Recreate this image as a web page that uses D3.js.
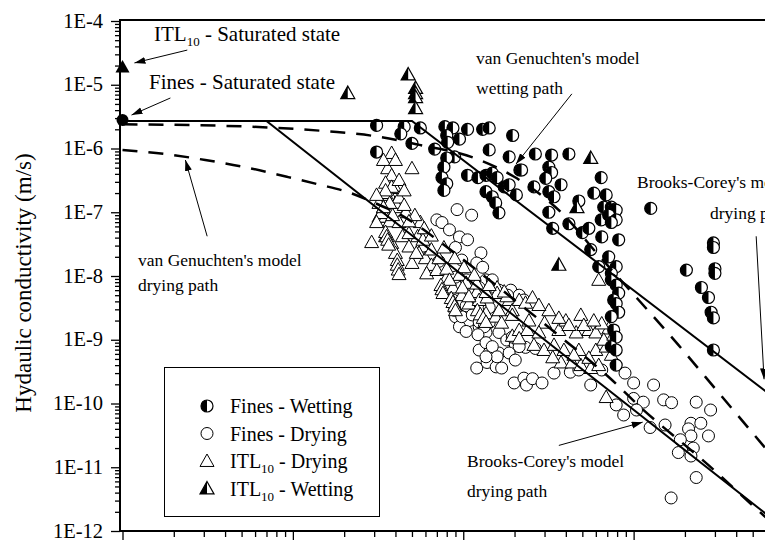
<!DOCTYPE html>
<html>
<head>
<meta charset="utf-8">
<script src="https://cdn.jsdelivr.net/npm/d3@7"></script>
<style>
  body { margin: 0; background: #fff; }
  svg { display: block; }
  text { font-family: "Liberation Serif", "Times New Roman", serif; fill: #000; }
</style>
</head>
<body>
<svg id="chart"></svg>
<script>
// suction (kPa), hydraulic conductivity (m/s)
const finesSaturated = [[1, 2.8e-6]];
const itlSaturated = [[1, 1.9e-5]];

const finesWetting = [
  [31,2.3e-6],[45,2.2e-6],[43,1.7e-6],[56,2.1e-6],[50,1.2e-6],[31,8.8e-7],[78,2.2e-6],[87,2.1e-6],
  [95,1.4e-6],[80,1.6e-6],[81,1.25e-6],[106,2.0e-6],[130,2.0e-6],[142,2.1e-6],[195,1.6e-6],[68,9.8e-7],
  [89,7.4e-7],[80,7.1e-7],[77,5.1e-7],[75,3.5e-7],[106,3.8e-7],[122,3.5e-7],[136,3.8e-7],[148,4.1e-7],
  [158,3.5e-7],[142,9.5e-7],[186,7.4e-7],[215,4.6e-7],[80,2.8e-7],[136,2.1e-7],[148,1.75e-7],[155,1.4e-7],
  [162,9.8e-8],[174,2.5e-7],[186,2.7e-7],[205,1.87e-7],[265,8.2e-7],[330,7.9e-7],[417,8.2e-7],[318,5.1e-7],
  [330,4.2e-7],[305,3.4e-7],[260,2.5e-7],[375,2.7e-7],[318,2.1e-7],[341,1.75e-7],[318,1.0e-7],[645,3.5e-7],
  [584,2.0e-7],[690,1.87e-7],[477,1.5e-7],[668,1.2e-7],[740,1.2e-7],[764,1.1e-7],[790,1.08e-7],[1260,1.15e-7],
  [220,4.6e-7],[77,2.2e-7],[335,5.6e-8],[417,6.6e-8],[500,4.8e-8],[546,5.6e-8],[645,7.6e-8],[650,4.1e-8],
  [714,9.0e-8],[790,7.6e-8],[740,6.9e-8],[560,2.6e-8],[714,2.0e-8],[624,1.4e-8],[790,1.4e-8],[740,1.1e-8],
  [740,8.7e-9],[790,7.2e-9],[817,5.4e-9],[764,4.2e-9],[790,3.7e-9],[817,2.7e-9],[740,2.3e-9],[764,1.42e-9],
  [790,1.1e-9],[740,7.8e-10],[790,6.9e-10],[790,4.0e-10],[2940,3.3e-8],[2940,2.8e-8],[2040,1.24e-8],
  [3000,1.3e-8],[3000,1.1e-8],[2500,6.6e-9],[2750,4.6e-9],[2850,2.7e-9],[2940,2.2e-9],[2940,6.9e-10],[817,3.7e-8]
];

const finesDrying = [
  [92,1.1e-7],[112,9.0e-8],[70,7.6e-8],[75,6.9e-8],[83,5.3e-8],[95,4.1e-8],[106,3.7e-8],[90,2.8e-8],
  [127,2.3e-8],[98,1.78e-8],[120,1.6e-8],[130,1.37e-8],[90,9.6e-9],[104,8.7e-9],[162,6.0e-9],[190,6.0e-9],
  [213,5.0e-9],[182,5.0e-9],[90,2.3e-9],[108,2.0e-9],[95,1.6e-9],[124,1.6e-9],[136,1.3e-9],[142,1.85e-9],
  [162,1.3e-9],[180,9.9e-10],[108,3.3e-9],[142,3.2e-9],[202,8.3e-10],[232,7.6e-10],[265,7.3e-10],[124,6.9e-10],
  [142,6.2e-10],[162,6.2e-10],[120,3.6e-10],[138,4.4e-10],[156,3.75e-10],[168,3.6e-10],[199,2.1e-10],[227,2.5e-10],
  [235,1.95e-10],[255,2.45e-10],[290,2.1e-10],[341,3.0e-10],[425,3.1e-10],[477,3.35e-10],[560,1.95e-10],[650,3.35e-10],
  [890,3.0e-10],[1000,2.1e-10],[1310,1.95e-10],[790,9.5e-11],[874,6.6e-11],[1000,1.2e-10],[1140,1.05e-10],[1040,7.9e-11],
  [1500,1.14e-10],[1670,1.03e-10],[1250,4.2e-11],[1530,4.6e-11],[2330,1.05e-10],[2830,7.9e-11],[2170,4.9e-11],[2480,4.9e-11],
  [2100,4.0e-11],[2170,3.1e-11],[2750,3.1e-11],[1880,2.7e-11],[2240,2.0e-11],[1830,1.7e-11],[2170,1.5e-11],[2330,6.9e-12],
  [1660,3.3e-12],[72,1.7e-8],[87,4.2e-9],[95,3.8e-9],[104,3.4e-9],[89,2.9e-9],[98,2.3e-9],[113,2.45e-9],
  [124,1.9e-9],[133,1.6e-9],[104,1.35e-9],[122,1.2e-9],[136,9.0e-10],[148,7.8e-10],[158,5.4e-10],[136,5.4e-10],
  [194,1.1e-9],[213,7.8e-10],[186,6.2e-10],[202,4.8e-10],[136,8.7e-9],[148,8.7e-9],[124,6.6e-9],[227,4.2e-9]
];

const itlDrying = [
  [38,8.5e-7],[50,4.9e-7],[36,4.9e-7],[38,3.8e-7],[35,2.9e-7],[40,2.4e-7],[37,1.87e-7],[42,1.56e-7],
  [34,1.2e-7],[40,1.2e-7],[46,1.0e-7],[32,8.5e-8],[35,8.5e-8],[32,1.4e-7],[40,1.4e-7],[33,9.7e-8],
  [31,7.0e-8],[37,7.2e-8],[42,7.0e-8],[56,7.0e-8],[29,3.4e-8],[35,4.2e-8],[38,3.3e-8],[40,2.3e-8],
  [44,4.2e-8],[48,2.9e-8],[54,4.2e-8],[58,2.9e-8],[50,1.6e-8],[55,2.3e-8],[60,1.9e-8],[65,1.49e-8],
  [61,1.1e-8],[70,1.24e-8],[80,9.6e-9],[87,6.6e-9],[95,1.04e-8],[104,7.8e-9],[98,5.0e-9],[108,3.7e-9],
  [120,5.6e-9],[124,4.2e-9],[138,4.6e-9],[158,6.6e-9],[158,5.4e-9],[186,4.2e-9],[194,2.9e-9],[213,4.2e-9],
  [232,3.8e-9],[136,2.6e-9],[155,2.3e-9],[168,1.85e-9],[194,1.15e-9],[213,1.42e-9],[238,1.42e-9],[38,2.5e-7],
  [35,2.0e-7],[42,1.7e-7],[37,1.4e-7],[34,1.2e-7],[48,4.7e-8],[58,3.7e-8],[65,2.6e-8],[53,2.3e-8],
  [72,1.9e-8],[80,1.3e-8],[83,8.7e-9],[99,6.6e-9],[120,7.6e-9],[108,4.8e-9],[136,5.6e-9],[180,4.8e-9],
  [255,4.6e-9],[162,2.9e-9],[194,2.45e-9],[243,2.0e-9],[300,1.85e-9],[364,1.42e-9],[400,2.0e-9],[490,2.45e-9],
  [460,1.3e-9],[546,1.42e-9],[600,1.3e-9],[714,1.5e-9],[477,6.9e-10],[600,6.9e-10],[690,7.8e-10],[375,4.4e-10],
  [435,4.4e-10],[490,4.0e-10],[560,3.6e-10],[624,4.0e-10],[690,1.26e-10],[624,8.7e-9],[213,1.05e-9],[260,8.3e-10],
  [298,6.9e-10],[335,5.3e-10],[278,1.3e-9],[318,2.9e-9],[650,1.8e-9],
  [35,4.9e-8],[35.5,4.2e-8],[36,3.7e-8],[36.5,3.1e-8],[41,1.78e-8],[41,1.5e-8],[41.5,1.26e-8],[42,1.07e-8],
  [74,7.2e-9],[75,6.2e-9],[76,5.4e-9],[85,4.5e-9],[87,3.9e-9],[89,3.4e-9],[90,2.9e-9],
  [121,2.9e-9],[126,2.5e-9],[131,2.2e-9],[136,1.9e-9],[45,1.3e-7],[52,9.0e-8],[59,5.6e-8],[65,4.3e-8],
  [77,2.8e-8],[89,1.9e-8],[101,1.37e-8],[116,1.04e-8],[142,7.2e-9],[174,5.7e-9],[278,3.5e-9],[364,2.2e-9],
  [417,1.7e-9],[510,1.7e-9],[584,2.0e-9],[668,1.0e-9],[764,1.2e-9],[341,8.3e-10],[390,6.9e-10],[446,5.8e-10],
  [546,5.2e-10],[740,5.8e-10],[34,6.6e-7],[40,6.6e-7],[42,3.2e-7],[35,2.2e-7],[45,2.2e-7],[31,1.87e-7],
  [38.5,9.0e-8],[48,7.2e-8]
];

const itlWetting = [
  [21,7.4e-6],[47.5,1.45e-5],[52.5,8.9e-6],[52.5,7.4e-6],[52.5,6.4e-6],[52.5,4.3e-6],[560,7.1e-7],[465,1.2e-7],[364,1.5e-8]
];

// model curves
const bcWetting = [[1,2.7e-6],[50,2.7e-6],[10000,5.4e-11]];
const bcDrying = [[1,2.7e-6],[7,2.7e-6],[10000,6.3e-13]];
const vgWetting = [[1,2.4e-6],[5.6,2.2e-6],[16.4,1.85e-6],[29.4,1.58e-6],[55.3,1.14e-6],[116,7.1e-7],[199,3.6e-7],
  [390,9.0e-8],[624,2.1e-8],[1070,4.2e-9],[1830,8.3e-10],[3140,1.5e-10],[5750,2.2e-11],[10000,3.8e-12]];
const vgDrying = [[1,9.5e-7],[1.78,8.2e-7],[3.06,6.6e-7],[5.24,5.1e-7],[9.22,3.6e-7],[14.4,2.7e-7],[20.7,2.1e-7],
  [30.2,1.4e-7],[45.2,8.4e-8],[72.4,3.5e-8],[108,1.54e-8],[221,3.4e-9],[374,1.1e-9],[714,2.6e-10],[1110,8.5e-11],
  [2750,1.08e-11],[5380,2.1e-12],[10000,4.7e-13]];

// annotation arrows: [from, to]
const arrows = [
  [[2.4,3.5e-5],[1.175,2.2e-5]],
  [[1.91,6.2e-6],[1.13,3.35e-6]],
  [[434,7.2e-6],[204,5.7e-7]],
  [[5240,4.2e-8],[5830,2.4e-10]],
  [[3.14,4.2e-8],[2.34,6.6e-7]],
  [[364,2.2e-11],[1130,5.1e-11]]
];

const yTicks = [1e-4,1e-5,1e-6,1e-7,1e-8,1e-9,1e-10,1e-11,1e-12];
const xTicks = [1,10,100,1000,10000];

const width = 765, height = 540;
const svg = d3.select("#chart").attr("width", width).attr("height", height);

const x = d3.scaleLog().domain([1, 1e4]).range([122.5, 804]);
const y = d3.scaleLog().domain([1e-12, 1e-4]).range([531, 21]);

// minor ticks
const yMinor = [];
for (let e = -12; e < -4; e++) for (let k = 2; k <= 9; k++) yMinor.push(k * Math.pow(10, e));
const xMinor = [];
for (let e = 0; e < 4; e++) for (let k = 2; k <= 9; k++) xMinor.push(k * Math.pow(10, e));

svg.append("defs").append("clipPath").attr("id", "plot")
  .append("rect").attr("x", 121).attr("y", 21).attr("width", 700).attr("height", 510);

const marker = svg.select("defs").append("marker")
  .attr("id", "head").attr("markerUnits", "userSpaceOnUse")
  .attr("markerWidth", 12).attr("markerHeight", 8)
  .attr("refX", 11).attr("refY", 3.5).attr("orient", "auto");
marker.append("path").attr("d", "M0,0L11,3.5L0,7Z").attr("fill", "#000");

// y axis
const yAxis = svg.append("g").attr("transform", "translate(120,0)");
yAxis.call(d3.axisLeft(y).tickValues(yMinor).tickSize(5).tickSizeOuter(0).tickFormat(""));
yAxis.call(g => g.select(".domain").remove());
const yAxisMajor = svg.append("g").attr("transform", "translate(120,0)")
  .call(d3.axisLeft(y).tickValues(yTicks).tickSize(9).tickPadding(8).tickSizeOuter(0)
    .tickFormat(d => "1E" + Math.round(Math.log10(d))));
yAxisMajor.select(".domain").remove();
yAxisMajor.selectAll("text").style("font-size", "20.5px").attr("dy", "0.3em");
svg.selectAll(".tick line").attr("stroke-width", 1.3);

// x axis (labels fall outside the frame)
const xAxis = svg.append("g").attr("transform", "translate(0,531)");
xAxis.call(d3.axisBottom(x).tickValues(xMinor).tickSize(6).tickSizeOuter(0).tickFormat(""));
xAxis.select(".domain").remove();
const xAxisMajor = svg.append("g").attr("transform", "translate(0,531)")
  .call(d3.axisBottom(x).tickValues(xTicks).tickSize(11).tickSizeOuter(0).tickFormat(""));
xAxisMajor.select(".domain").remove();
svg.selectAll(".tick line").attr("stroke-width", 1.3);

// frame
svg.append("line").attr("x1", 120).attr("x2", 120).attr("y1", 20).attr("y2", 532).attr("stroke", "#000").attr("stroke-width", 2);
svg.append("line").attr("x1", 119).attr("x2", width).attr("y1", 531).attr("y2", 531).attr("stroke", "#000").attr("stroke-width", 2);
svg.append("line").attr("x1", 119).attr("x2", width).attr("y1", 20).attr("y2", 20).attr("stroke", "#000").attr("stroke-width", 2);

// y title
svg.append("text")
  .attr("transform", "translate(31,283) rotate(-90)")
  .attr("text-anchor", "middle")
  .style("font-size", "23px")
  .text("Hydaulic conductivity (m/s)");

// symbols
const circlePath = r => `M${-r},0A${r},${r} 0 1 0 ${r},0A${r},${r} 0 1 0 ${-r},0Z`;
const halfCircle = r => `M0,${-r}A${r},${r} 0 0 0 0,${r}Z`;
const triPath = s => `M0,${-s}L${s},${s * 0.78}L${-s},${s * 0.78}Z`;
const halfTri = s => `M0,${-s}L0,${s * 0.78}L${-s},${s * 0.78}Z`;

function drawSymbol(g, type) {
  if (type === "fw") {
    g.append("path").attr("d", circlePath(6)).attr("fill", "#fff").attr("stroke", "#000").attr("stroke-width", 1.2);
    g.append("path").attr("d", halfCircle(6)).attr("fill", "#000");
  } else if (type === "fd") {
    g.append("path").attr("d", circlePath(6)).attr("fill", "#fff").attr("stroke", "#000").attr("stroke-width", 1);
  } else if (type === "td") {
    g.append("path").attr("d", triPath(7)).attr("fill", "#fff").attr("stroke", "#000").attr("stroke-width", 1);
  } else if (type === "tw") {
    g.append("path").attr("d", triPath(7)).attr("fill", "#fff").attr("stroke", "#000").attr("stroke-width", 1.2);
    g.append("path").attr("d", halfTri(7)).attr("fill", "#000");
  }
}

function drawSeries(data, type) {
  svg.append("g").selectAll("g").data(data).join("g")
    .attr("transform", d => `translate(${x(d[0])},${y(d[1])})`)
    .each(function () { drawSymbol(d3.select(this), type); });
}

drawSeries(finesDrying, "fd");
drawSeries(itlDrying, "td");
drawSeries(finesWetting, "fw");
drawSeries(itlWetting, "tw");

// saturated points
svg.append("g").selectAll("circle").data(finesSaturated).join("circle")
  .attr("cx", d => x(d[0])).attr("cy", d => y(d[1])).attr("r", 6).attr("fill", "#000");
svg.append("g").selectAll("path").data(itlSaturated).join("path")
  .attr("transform", d => `translate(${x(d[0])},${y(d[1])})`)
  .attr("d", triPath(7)).attr("fill", "#000");

// model lines
const line = d3.line().x(d => x(d[0])).y(d => y(d[1]));
const curve = d3.line().x(d => x(d[0])).y(d => y(d[1])).curve(d3.curveMonotoneX);
const lines = svg.append("g").attr("clip-path", "url(#plot)").attr("fill", "none").attr("stroke", "#000");
lines.append("path").attr("d", line(bcWetting)).attr("stroke-width", 2);
lines.append("path").attr("d", line(bcDrying)).attr("stroke-width", 2);
lines.append("path").attr("d", curve(vgWetting)).attr("stroke-width", 2.5).attr("stroke-dasharray", "15,11");
lines.append("path").attr("d", curve(vgDrying)).attr("stroke-width", 2.5).attr("stroke-dasharray", "15,11");

// arrows
svg.append("g").selectAll("line").data(arrows).join("line")
  .attr("x1", d => x(d[0][0])).attr("y1", d => y(d[0][1]))
  .attr("x2", d => x(d[1][0])).attr("y2", d => y(d[1][1]))
  .attr("stroke", "#000").attr("stroke-width", 1)
  .attr("marker-end", "url(#head)");

// annotation text
const ann = svg.append("g").style("font-size", "21px");
const t1 = ann.append("text").attr("x", 154).attr("y", 41);
t1.append("tspan").text("ITL");
t1.append("tspan").attr("dy", 5).style("font-size", "13px").text("10");
t1.append("tspan").attr("dy", -5).text(" - Saturated state");
ann.append("text").attr("x", 149).attr("y", 89).text("Fines - Saturated state");

const small = svg.append("g").style("font-size", "17.5px");
small.append("text").attr("x", 476).attr("y", 64).text("van Genuchten's model");
small.append("text").attr("x", 476).attr("y", 94).text("wetting path");
small.append("text").attr("x", 637).attr("y", 188).text("Brooks-Corey's model");
small.append("text").attr("x", 710).attr("y", 219).text("drying path");
small.append("text").attr("x", 138).attr("y", 266).text("van Genuchten's model");
small.append("text").attr("x", 138).attr("y", 291).text("drying path");
small.append("text").attr("x", 467).attr("y", 467).text("Brooks-Corey's model");
small.append("text").attr("x", 467).attr("y", 497).text("drying path");

// legend
const legendItems = [
  { type: "fw", name: "Fines - Wetting", sub: null },
  { type: "fd", name: "Fines - Drying", sub: null },
  { type: "td", name: "ITL", sub: "10", rest: " - Drying" },
  { type: "tw", name: "ITL", sub: "10", rest: " - Wetting" }
];
svg.append("rect").attr("x", 164.5).attr("y", 367.5).attr("width", 215).attr("height", 149)
  .attr("fill", "#fff").attr("stroke", "#000").attr("stroke-width", 1);
const lg = svg.append("g").selectAll("g").data(legendItems).join("g")
  .attr("transform", (d, i) => `translate(207,${406 + i * 27.5})`);
lg.each(function (d) { drawSymbol(d3.select(this), d.type); });
lg.append("text").attr("x", 23).attr("y", 7).style("font-size", "20px")
  .each(function (d) {
    const t = d3.select(this);
    t.append("tspan").text(d.name);
    if (d.sub) {
      t.append("tspan").attr("dy", 5).style("font-size", "13px").text(d.sub);
      t.append("tspan").attr("dy", -5).text(d.rest);
    }
  });
</script>
</body>
</html>
